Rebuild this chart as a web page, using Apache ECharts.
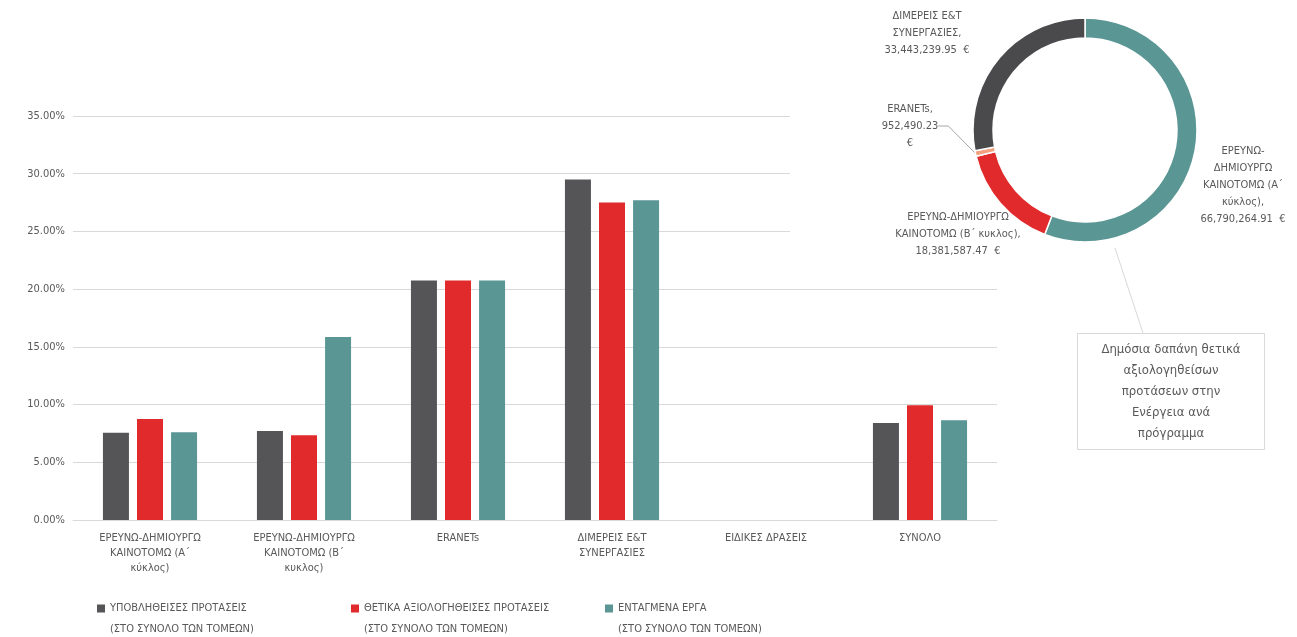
<!DOCTYPE html>
<html>
<head>
<meta charset="utf-8">
<script src="https://cdn.jsdelivr.net/npm/echarts@6/dist/echarts.min.js"></script>
<style>
  html, body { margin: 0; padding: 0; background: #ffffff; }
  #chart { width: 1297px; height: 637px; }
</style>
</head>
<body>
<div id="chart"></div>
<script>
// ---------- DATA ----------
const categories = [
  'ΕΡΕΥΝΩ-ΔΗΜΙΟΥΡΓΩ\nΚΑΙΝΟΤΟΜΩ (Α΄\nκύκλος)',
  'ΕΡΕΥΝΩ-ΔΗΜΙΟΥΡΓΩ\nΚΑΙΝΟΤΟΜΩ (Β΄\nκυκλος)',
  'ERANETs',
  'ΔΙΜΕΡΕΙΣ Ε&Τ\nΣΥΝΕΡΓΑΣΙΕΣ',
  'ΕΙΔΙΚΕΣ ΔΡΑΣΕΙΣ',
  'ΣΥΝΟΛΟ'
];
const seriesNames = [
  'ΥΠΟΒΛΗΘΕΙΣΕΣ ΠΡΟΤΑΣΕΙΣ\n(ΣΤΟ ΣΥΝΟΛΟ ΤΩΝ ΤΟΜΕΩΝ)',
  'ΘΕΤΙΚΑ ΑΞΙΟΛΟΓΗΘΕΙΣΕΣ ΠΡΟΤΑΣΕΙΣ\n(ΣΤΟ ΣΥΝΟΛΟ ΤΩΝ ΤΟΜΕΩΝ)',
  'ΕΝΤΑΓΜΕΝΑ ΕΡΓΑ\n(ΣΤΟ ΣΥΝΟΛΟ ΤΩΝ ΤΟΜΕΩΝ)'
];
const submitted = [7.55, 7.70, 20.75, 29.50, 0, 8.40];   // %
const positive  = [8.75, 7.35, 20.75, 27.50, 0, 9.95];   // %
const funded    = [7.60, 15.85, 20.75, 27.70, 0, 8.65];  // %
const yTicks = [0, 5, 10, 15, 20, 25, 30, 35];

const pieNames = [
  'ΕΡΕΥΝΩ-\nΔΗΜΙΟΥΡΓΩ\nΚΑΙΝΟΤΟΜΩ (Α΄\nκύκλος)',
  'ΕΡΕΥΝΩ-ΔΗΜΙΟΥΡΓΩ\nΚΑΙΝΟΤΟΜΩ (Β΄ κυκλος)',
  'ERANETs',
  'ΔΙΜΕΡΕΙΣ Ε&Τ\nΣΥΝΕΡΓΑΣΙΕΣ'
];
const pieValues = [66790264.91, 18381587.47, 952490.23, 33443239.95];
const pieTitle = 'Δημόσια δαπάνη θετικά\nαξιολογηθείσων\nπροτάσεων στην\nΕνέργεια ανά\nπρόγραμμα';

// ---------- STYLE ----------
const FONT = "'Liberation Sans Narrow', 'DejaVu Sans Condensed', sans-serif";
const TXT = '#595959';
const colors = ['#555557', '#E02A2B', '#5A9694'];
const pieColors = ['#5A9694', '#E02A2B', '#F2A07E', '#4A4A4D'];

function fmtEur(v) {
  return v.toLocaleString('en-US', { minimumFractionDigits: 2, maximumFractionDigits: 2 });
}

const labelPos = [
  { x: 1243, y: 185 },
  { x: 958, y: 234 },
  { x: 910, y: 126 },
  { x: 927, y: 33 }
];

const chart = echarts.init(document.getElementById('chart'), null, { renderer: 'canvas' });

const barSeries = [submitted, positive, funded].map((arr, i) => ({
  name: seriesNames[i],
  type: 'bar',
  data: arr,
  barWidth: 26,
  barGap: '31%',
  itemStyle: { color: colors[i] },
  z: 3
}));

chart.setOption({
  backgroundColor: '#ffffff',
  animation: false,
  textStyle: { fontFamily: FONT },
  color: colors,
  title: {
    text: pieTitle,
    left: 1147,
    top: 333,
    textAlign: 'center',
    borderColor: '#D9D9D9',
    borderWidth: 1,
    padding: [6, 24, 6, 24],
    textStyle: {
      fontFamily: FONT,
      fontSize: 13,
      fontWeight: 'normal',
      color: TXT,
      lineHeight: 21
    }
  },
  grid: { left: 73, right: 300, top: 116, bottom: 117, containLabel: false },
  xAxis: {
    type: 'category',
    data: categories,
    axisLine: { lineStyle: { color: '#D9D9D9' } },
    axisTick: { show: false },
    axisLabel: {
      interval: 0,
      color: TXT,
      fontFamily: FONT,
      fontSize: 11,
      lineHeight: 15,
      margin: 11
    }
  },
  yAxis: {
    type: 'value',
    min: yTicks[0],
    max: yTicks[yTicks.length - 1],
    interval: 5,
    axisLine: { show: false },
    axisTick: { show: false },
    splitLine: { lineStyle: { color: '#D9D9D9' } },
    axisLabel: {
      color: TXT,
      fontFamily: FONT,
      fontSize: 11,
      margin: 8,
      formatter: v => v.toFixed(2) + '%'
    }
  },
  legend: {
    data: seriesNames,
    left: 92,
    top: 593,
    itemWidth: 8,
    itemHeight: 29,
    itemGap: 0,
    icon: 'path://M0,0H8V8H0Z M0,28.9H0.1V29H0Z',
    textStyle: {
      color: TXT,
      fontFamily: FONT,
      fontSize: 11,
      lineHeight: 21,
      width: 241,
      overflow: 'none'
    }
  },
  graphic: [
    {
      type: 'rect',
      z: 1,
      shape: { x: 790, y: 0, width: 507, height: 262 },
      style: { fill: '#ffffff' },
      silent: true
    },
    {
      type: 'line',
      z: 1,
      shape: { x1: 1115, y1: 248, x2: 1143, y2: 333 },
      style: { stroke: '#D9D9D9', lineWidth: 1 },
      silent: true
    }
  ],
  series: [
    ...barSeries,
    {
      type: 'pie',
      z: 5,
      center: [1085, 130],
      radius: [92, 112],
      startAngle: 90,
      clockwise: true,
      legendHoverLink: false,
      itemStyle: { borderColor: '#ffffff', borderWidth: 1.5 },
      data: pieValues.map((v, i) => ({
        name: pieNames[i],
        value: v,
        itemStyle: { color: pieColors[i] },
        labelLine: { show: i === 2, lineStyle: { color: '#A6A6A6', width: 1 } }
      })),
      label: {
        show: true,
        position: 'outside',
        color: TXT,
        fontFamily: FONT,
        fontSize: 11,
        lineHeight: 17,
        align: 'center',
        overflow: 'none',
        formatter: p => p.name + ',\n' + fmtEur(p.value) + (p.dataIndex === 2 ? '\n€' : '  €')
      },
      labelLine: { show: false, length: 8, length2: 10 },
      labelLayout: p => ({
        x: labelPos[p.dataIndex].x,
        y: labelPos[p.dataIndex].y,
        align: 'center',
        verticalAlign: 'middle'
      })
    }
  ]
});
</script>
</body>
</html>
